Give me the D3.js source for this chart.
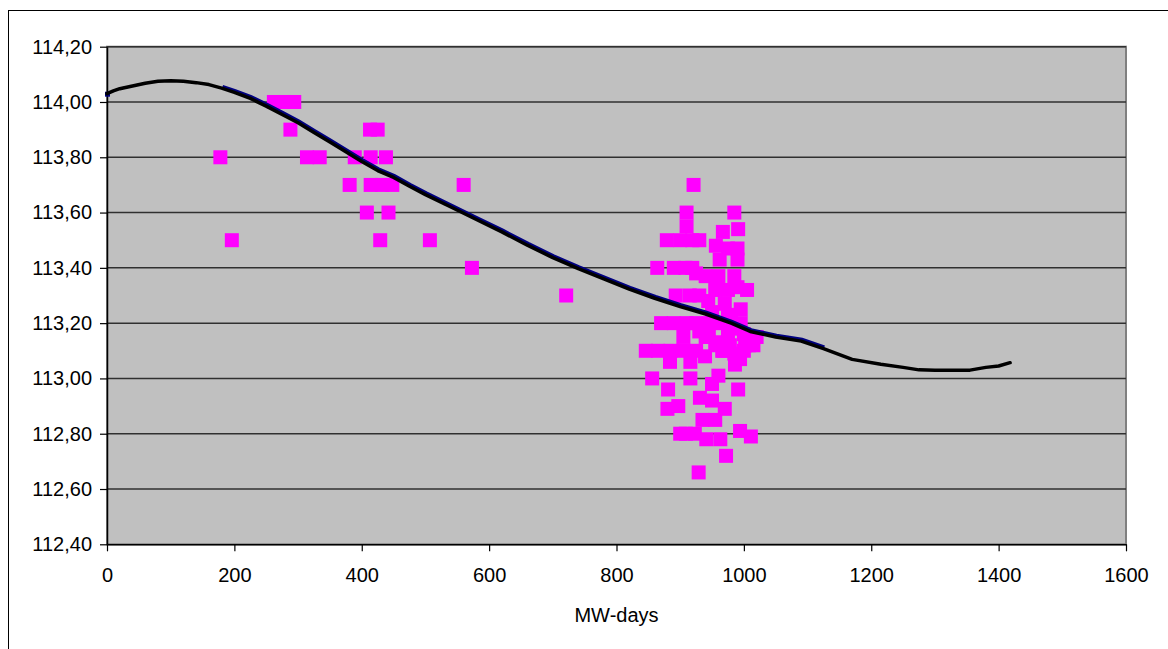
<!DOCTYPE html>
<html>
<head>
<meta charset="utf-8">
<script src="https://cdn.jsdelivr.net/npm/d3@7"></script>
<style>
  html, body { margin: 0; padding: 0; background: #fff; }
  svg { display: block; font-family: "Liberation Sans", Arial, sans-serif; }
</style>
</head>
<body>
<svg id="chart" width="1168" height="649"></svg>
<script>
// Calculated trend (MW-days vs value)
const trendX = [0, 10, 20, 40, 60, 80, 100, 120, 140, 160, 180, 200, 225, 250, 275, 300, 325, 350, 375, 400, 425, 450, 475, 500, 540, 580, 620, 660, 700, 740, 780, 820, 860, 900, 940, 980, 1010, 1050, 1090, 1125, 1170, 1215, 1250, 1275, 1300, 1355, 1380, 1400, 1418];
const trendY = [114.030, 114.040, 114.048, 114.058, 114.068, 114.075, 114.077, 114.075, 114.070, 114.063, 114.050, 114.035, 114.013, 113.985, 113.955, 113.925, 113.890, 113.855, 113.820, 113.785, 113.752, 113.727, 113.695, 113.665, 113.620, 113.575, 113.530, 113.482, 113.437, 113.397, 113.360, 113.323, 113.290, 113.260, 113.233, 113.200, 113.170, 113.150, 113.135, 113.108, 113.069, 113.051, 113.040, 113.031, 113.030, 113.030, 113.040, 113.045, 113.057];

// Range covered by the fitted point series drawn beneath the trend
const fitStart = 170;
const fitEnd = 1125;

// Measured points
const measX = [178, 196, 262, 278, 294, 288, 314, 334, 389, 414, 438, 413, 425, 381, 414, 432, 448, 408, 442, 429, 507, 560, 573, 721,
  921, 910, 985, 910, 991, 967, 879, 900, 919, 930, 956, 975, 990, 962, 990, 864, 890, 908, 919, 925, 940, 960, 985, 990, 1005, 955, 975,
  893, 915, 930, 944, 970, 995, 980, 995, 870, 890, 910, 925, 945, 965, 1000, 1020, 1008,
  846, 865, 885, 905, 925, 856, 884, 916, 939, 966, 978, 994, 986, 1002, 960, 950, 931, 916, 881, 897, 880,
  900, 909, 923, 929, 935, 941, 955, 963, 970, 972, 991, 994, 1011, 950, 975, 945, 958, 985, 1015, 905, 955, 968,
  940, 960, 930, 985, 1000, 950, 975];
const measY = [113.80, 113.50, 114.00, 114.00, 114.00, 113.90, 113.80, 113.80, 113.80, 113.80, 113.80, 113.90, 113.90, 113.70, 113.70, 113.70, 113.70, 113.60, 113.60, 113.50, 113.50, 113.70, 113.40, 113.30,
  113.70, 113.60, 113.60, 113.55, 113.54, 113.53, 113.50, 113.50, 113.50, 113.50, 113.48, 113.47, 113.47, 113.43, 113.43, 113.40, 113.40, 113.40, 113.40, 113.38, 113.37, 113.37, 113.37, 113.33, 113.32, 113.32, 113.32,
  113.30, 113.30, 113.30, 113.28, 113.27, 113.25, 113.22, 113.20, 113.20, 113.20, 113.20, 113.20, 113.20, 113.20, 113.16, 113.15, 113.12,
  113.10, 113.10, 113.10, 113.10, 113.10, 113.00, 113.06, 113.06, 113.08, 113.10, 113.12, 113.07, 113.05, 113.12, 113.01, 112.98, 112.93, 113.00, 112.96, 112.90, 112.89,
  112.80, 112.80, 112.80, 112.66, 112.85, 112.78, 112.85, 112.78, 112.89, 112.72, 112.96, 112.81, 112.79, 112.92, 113.15, 113.15, 113.13, 113.18, 113.12, 113.15, 113.12, 113.10,
  113.15, 113.13, 113.17, 113.09, 113.10, 113.24, 113.23];

const xTicks = [0, 200, 400, 600, 800, 1000, 1200, 1400, 1600];
const yTicks = [112.4, 112.6, 112.8, 113.0, 113.2, 113.4, 113.6, 113.8, 114.0, 114.2];
const xTitle = "MW-days";

const svg = d3.select("#chart");
const W = 1168, H = 649;
const plot = { left: 107, right: 1126, top: 46.7, bottom: 544.3 };

const x = d3.scaleLinear().domain([0, 1600]).range([plot.left, plot.right]);
const y = d3.scaleLinear().domain([112.4, 114.2]).range([plot.bottom, plot.top]);
const fmt = v => d3.format(".2f")(v).replace(".", ",");

// Outer chart frame
svg.append("rect").attr("x", 8.5).attr("y", 10.5).attr("width", W).attr("height", H)
  .attr("fill", "#fff").attr("stroke", "#000").attr("stroke-width", 1);

// Plot area
svg.append("rect")
  .attr("x", plot.left).attr("y", plot.top)
  .attr("width", plot.right - plot.left).attr("height", plot.bottom - plot.top)
  .attr("fill", "#c0c0c0").attr("stroke", "#808080").attr("stroke-width", 2);

// Horizontal gridlines
svg.append("g").selectAll("line").data(yTicks.filter(t => t > 112.4)).join("line")
  .attr("x1", plot.left).attr("x2", plot.right)
  .attr("y1", d => y(d)).attr("y2", d => y(d))
  .attr("stroke", "#303030").attr("stroke-width", 1.5);

// Axes
const yAxis = svg.append("g").attr("transform", `translate(${plot.left},0)`)
  .call(d3.axisLeft(y).tickValues(yTicks).tickSize(7).tickSizeOuter(0).tickPadding(8).tickFormat(fmt));
const xAxis = svg.append("g").attr("transform", `translate(0,${plot.bottom})`)
  .call(d3.axisBottom(x).tickValues(xTicks).tickSize(7).tickSizeOuter(0).tickPadding(17).tickFormat(d3.format("d")));
[yAxis, xAxis].forEach(g => {
  g.select(".domain").attr("stroke", "#000").attr("stroke-width", 1.5);
  g.selectAll(".tick line").attr("stroke", "#000").attr("stroke-width", 1.2);
  g.selectAll("text").attr("fill", "#000").style("font-size", "20px")
    .style("font-family", '"Liberation Sans", Arial, sans-serif');
});

// Axis title
svg.append("text").attr("x", (plot.left + plot.right) / 2).attr("y", 621.5)
  .attr("text-anchor", "middle").style("font-size", "20px").attr("fill", "#000").text(xTitle);

// Measured points
const sz = 14;
svg.append("g").selectAll("rect").data(d3.range(measX.length)).join("rect")
  .attr("x", i => x(measX[i]) - sz / 2).attr("y", i => y(measY[i]) - sz / 2)
  .attr("width", sz).attr("height", sz).attr("fill", "#ff00ff");

// Fitted point series, visible as a navy edge along the trend
const trend = d3.range(trendX.length).map(i => [trendX[i], trendY[i]]);
const fitted = trend.filter(d => d[0] >= fitStart && d[0] <= fitEnd);
const line = d3.line().x(d => x(d[0])).y(d => y(d[1]));
svg.append("path").datum(fitted).attr("d", line)
  .attr("transform", "translate(0.8,-1.3)")
  .attr("fill", "none").attr("stroke", "#000080").attr("stroke-width", 4);
svg.append("rect").attr("x", x(trendX[0]) - 2).attr("y", y(trendY[0]) - 2)
  .attr("width", 5).attr("height", 5).attr("fill", "#000080");

// Trend line
svg.append("path").datum(trend).attr("d", line)
  .attr("fill", "none").attr("stroke", "#000").attr("stroke-width", 3.5)
  .attr("stroke-linejoin", "round").attr("stroke-linecap", "round");
</script>
</body>
</html>
